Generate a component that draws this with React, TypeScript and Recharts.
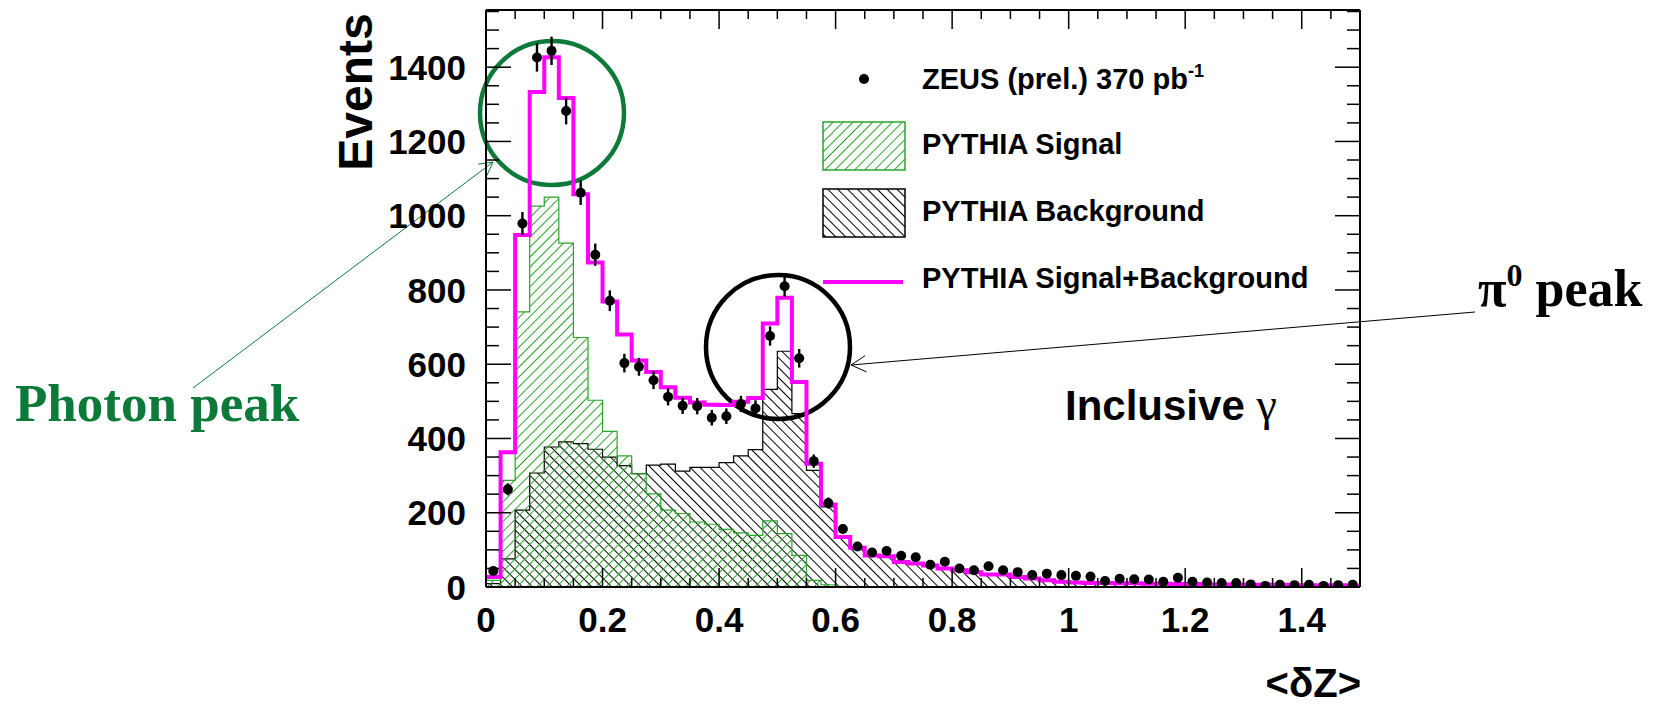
import React from 'react';
import { ComposedChart, Area, Line, Scatter, ErrorBar, XAxis, YAxis } from 'recharts';

// <dZ> histogram: 60 bins of 0.025 from 0 to 1.5
const binWidth = 0.025;

const signalCounts = [
  18, 287, 741, 1026, 1050, 926, 672, 503, 419, 353,
  305, 251, 207, 198, 175, 169, 155, 146, 139, 178,
  144, 85, 18, 6, 2, 0, 0, 0, 0, 0,
  0, 0, 0, 0, 0, 0, 0, 0, 0, 0,
  0, 0, 0, 0, 0, 0, 0, 0, 0, 0,
  0, 0, 0, 0, 0, 0, 0, 0, 0, 0,
];

const backgroundCounts = [
  9, 76, 207, 307, 377, 391, 386, 371, 350, 327,
  305, 328, 331, 312, 322, 322, 335, 353, 370, 532,
  635, 467, 314, 216, 133, 106, 85, 83, 67, 63,
  58, 50, 45, 40, 34, 34, 27, 23, 18, 14,
  12, 11, 11, 10, 10, 9, 9, 8, 8, 7,
  7, 7, 6, 6, 6, 5, 5, 5, 5, 4,
];

const dataCounts = [
  43, 263, 979, 1426, 1444, 1282, 1062, 895, 771, 603,
  593, 557, 512, 488, 487, 456, 460, 493, 481, 676,
  810, 616, 339, 226, 156, 109, 93, 97, 84, 80,
  60, 68, 50, 45, 56, 45, 40, 32, 36, 32,
  30, 28, 16, 22, 21, 20, 14, 25, 14, 12,
  11, 11, 7, 3, 6, 5, 6, 3, 5, 6,
];

const dataErrors = [
  7, 16, 31, 38, 38, 36, 33, 30, 28, 25,
  24, 24, 23, 22, 22, 21, 21, 22, 22, 26,
  28, 25, 18, 15, 12, 10, 10, 10, 9, 9,
  8, 8, 7, 7, 7, 7, 6, 6, 6, 6,
  5, 5, 4, 5, 5, 4, 4, 5, 4, 3,
  3, 3, 3, 2, 2, 2, 2, 2, 2, 2,
];

const xLabelTicks = [0, 0.2, 0.4, 0.6, 0.8, 1, 1.2, 1.4];
const yLabelTicks = [0, 200, 400, 600, 800, 1000, 1200, 1400];
const xAllTicks = Array.from({ length: 31 }, (_, i) => (i * 5) / 100);
const yAllTicks = Array.from({ length: 32 }, (_, i) => i * 50);
const xMax = 1.5;
const yMax = 1554;

const histRows = signalCounts.map((s, i) => ({
  x: i * binWidth,
  sig: s,
  bkg: backgroundCounts[i],
  tot: s + backgroundCounts[i],
}));
// closing edge so the last step reaches 1.5
histRows.push({ ...histRows[histRows.length - 1], x: signalCounts.length * binWidth });

const dataPoints = dataCounts.map((n, i) => ({ x: (i + 0.5) * binWidth, y: n, err: dataErrors[i] }));

const SANS = '"Liberation Sans", Arial, Helvetica, sans-serif';
const SERIF = '"Liberation Serif", "Times New Roman", serif';
const GREEN = '#2aa52a';
const DARK_GREEN = '#0d7a3a';
const MAGENTA = '#ff00ff';

const frame = { stroke: '#000', strokeWidth: 2 };
const isLabelled = (v: number, list: number[]) => list.some((t) => Math.abs(t - v) < 1e-6);
const fmt = (v: number) => String(Number(v.toFixed(2)));

const BottomTick = (p: any) => {
  const major = isLabelled(p.payload.value, xLabelTicks);
  return (
    <g>
      <line x1={p.x} y1={p.y} x2={p.x} y2={p.y - (major ? 19 : 9)} stroke="#000" strokeWidth={1.5} />
      {major && (
        <text x={p.x} y={p.y + 45} textAnchor="middle" fontSize={35} fontWeight="bold" fontFamily={SANS} fill="#000">
          {fmt(p.payload.value)}
        </text>
      )}
    </g>
  );
};

const TopTick = (p: any) => {
  const major = isLabelled(p.payload.value, xLabelTicks);
  return <line x1={p.x} y1={p.y} x2={p.x} y2={p.y + (major ? 19 : 9)} stroke="#000" strokeWidth={1.5} />;
};

const LeftTick = (p: any) => {
  const major = p.payload.value % 200 === 0;
  return (
    <g>
      <line x1={p.x} y1={p.y} x2={p.x + (major ? 25 : 13)} y2={p.y} stroke="#000" strokeWidth={1.5} />
      {isLabelled(p.payload.value, yLabelTicks) && (
        <text x={p.x - 20} y={p.y} dy="0.36em" textAnchor="end" fontSize={35} fontWeight="bold" fontFamily={SANS} fill="#000">
          {p.payload.value}
        </text>
      )}
    </g>
  );
};

const RightTick = (p: any) => {
  const major = p.payload.value % 200 === 0;
  return <line x1={p.x} y1={p.y} x2={p.x - (major ? 25 : 13)} y2={p.y} stroke="#000" strokeWidth={1.5} />;
};

const arrowHead = (tx: number, ty: number, fx: number, fy: number, len: number) => {
  const a = Math.atan2(fy - ty, fx - tx);
  const s = 0.5;
  return `${tx + len * Math.cos(a + s)},${ty + len * Math.sin(a + s)} ${tx},${ty} ${tx + len * Math.cos(a - s)},${ty + len * Math.sin(a - s)}`;
};

const legendText = { fontSize: 29, fontWeight: 'bold' as const, fontFamily: SANS, fill: '#000' };

export default function App() {
  return (
    <div style={{ position: 'absolute', left: 0, top: 0, width: 1658, height: 706, background: '#fff' }}>
      <ComposedChart width={1658} height={706} data={histRows} margin={{ top: 9, right: 297, bottom: 59, left: 0 }}>
        <defs>
          <pattern id="hatchSignal" patternUnits="userSpaceOnUse" width={7} height={7} patternTransform="rotate(45)">
            <line x1={3.5} y1={0} x2={3.5} y2={7} stroke={GREEN} strokeWidth={1} />
          </pattern>
          <pattern id="hatchBackground" patternUnits="userSpaceOnUse" width={7} height={7} patternTransform="rotate(-45)">
            <line x1={3.5} y1={0} x2={3.5} y2={7} stroke="#000" strokeWidth={1} />
          </pattern>
        </defs>

        <XAxis dataKey="x" type="number" domain={[0, xMax]} allowDataOverflow ticks={xAllTicks} interval={0}
          tickSize={0} tickMargin={0} tickLine={false} tick={BottomTick} height={60} axisLine={frame} />
        <XAxis xAxisId="top" orientation="top" dataKey="x" type="number" domain={[0, xMax]} allowDataOverflow
          ticks={xAllTicks} interval={0} tickSize={0} tickMargin={0} tickLine={false} tick={TopTick} height={1} axisLine={frame} />
        <YAxis type="number" domain={[0, yMax]} allowDataOverflow ticks={yAllTicks} interval={0}
          tickSize={0} tickMargin={0} tickLine={false} tick={LeftTick} width={486} axisLine={frame} />
        <YAxis yAxisId="right" orientation="right" type="number" domain={[0, yMax]} allowDataOverflow ticks={yAllTicks}
          interval={0} tickSize={0} tickMargin={0} tickLine={false} tick={RightTick} width={1} axisLine={frame} />

        <Area type="stepAfter" dataKey="bkg" stroke="#000" strokeWidth={1.2} fill="url(#hatchBackground)" fillOpacity={1}
          isAnimationActive={false} activeDot={false} />
        <Area type="stepAfter" dataKey="sig" stroke={GREEN} strokeWidth={1.2} fill="url(#hatchSignal)" fillOpacity={1}
          isAnimationActive={false} activeDot={false} />
        <Line type="stepAfter" dataKey="tot" stroke={MAGENTA} strokeWidth={4} dot={false} activeDot={false}
          isAnimationActive={false} />
        <Scatter data={dataPoints} dataKey="y" isAnimationActive={false}
          shape={(p: any) => <circle cx={p.cx} cy={p.cy} r={5} fill="#000" />}>
          <ErrorBar dataKey="err" direction="y" width={0} stroke="#000" strokeWidth={2.4} />
        </Scatter>

        {/* legend */}
        <g>
          <circle cx={864} cy={79} r={5} fill="#000" />
          <text x={922} y={89} {...legendText}>
            ZEUS (prel.) 370 pb<tspan fontSize={18} dy={-12}>-1</tspan>
          </text>
          <rect x={823} y={122} width={82} height={48} fill="url(#hatchSignal)" stroke={GREEN} strokeWidth={1.5} />
          <text x={922} y={154} {...legendText}>PYTHIA Signal</text>
          <rect x={823} y={189} width={82} height={48} fill="url(#hatchBackground)" stroke="#000" strokeWidth={1.5} />
          <text x={922} y={221} {...legendText}>PYTHIA Background</text>
          <line x1={823} y1={282} x2={903} y2={282} stroke={MAGENTA} strokeWidth={4} />
          <text x={922} y={288} {...legendText}>PYTHIA Signal+Background</text>
        </g>

        <text x={1065} y={420} fontSize={42} fontWeight="bold" fontFamily={SANS} fill="#000">
          Inclusive <tspan fontFamily={SERIF} fontWeight="normal" fontSize={46}>γ</tspan>
        </text>

        {/* axis titles */}
        <text x={372} y={92} transform="rotate(-90, 372, 92)" textAnchor="middle" fontSize={48} fontWeight="bold"
          fontFamily={SANS} fill="#000">Events</text>
        <text x={1361} y={697} textAnchor="end" fontSize={40} fontWeight="bold" fontFamily={SANS} fill="#000">
          &lt;δZ&gt;
        </text>

        {/* peak call-outs */}
        <circle cx={552} cy={113} r={72} fill="none" stroke={DARK_GREEN} strokeWidth={4.5} />
        <line x1={193} y1={388} x2={493} y2={162} stroke={DARK_GREEN} strokeWidth={1} />
        <polyline points={arrowHead(493, 162, 193, 388, 15)} fill="none" stroke={DARK_GREEN} strokeWidth={1} />
        <text x={15} y={421} fontSize={53} fontWeight="bold" fontFamily={SERIF} fill={DARK_GREEN}>Photon peak</text>

        <circle cx={778} cy={347} r={72} fill="none" stroke="#000" strokeWidth={4.5} />
        <line x1={1475} y1={312} x2={851} y2={365} stroke="#000" strokeWidth={1} />
        <polyline points={arrowHead(851, 365, 1475, 312, 17)} fill="none" stroke="#000" strokeWidth={1} />
        <text x={1478} y={306} fontSize={52} fontWeight="bold" fontFamily={SERIF} fill="#000">
          π<tspan fontSize={32} dy={-20}>0</tspan><tspan dy={20}> peak</tspan>
        </text>
      </ComposedChart>
    </div>
  );
}
